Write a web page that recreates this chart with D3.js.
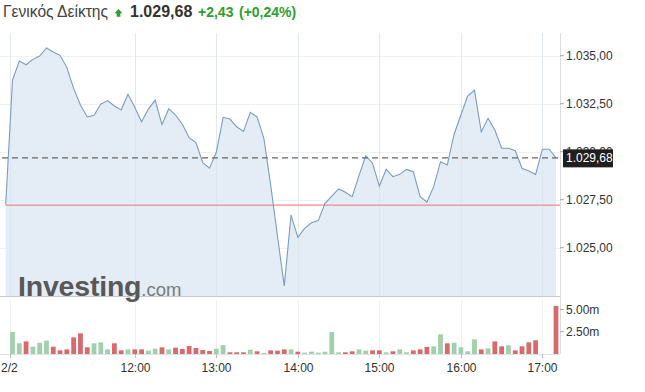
<!DOCTYPE html>
<html lang="el">
<head>
    <meta charset="UTF-8">
    <title>Γενικός Δείκτης</title>
    <script src="https://d3js.org/d3.v7.min.js"></script>
    <style>
        body { margin: 0; background: #fff; }
        svg { display: block; font-family: Arial, "Liberation Sans", sans-serif; }
        .tick-label { font-size: 12px; fill: #333; }
    </style>
</head>
<body>
    <script>
        const width = 645;
        const height = 392;

        // 5-minute closes, first value is previous close (10:25)
        const prices = [
            1027.25, 1033.73, 1034.72, 1034.53, 1034.81, 1034.98, 1035.40, 1035.19, 1035.02, 1034.38,
            1033.30, 1032.43, 1031.81, 1031.90, 1032.48, 1032.66, 1032.38, 1032.17, 1032.99, 1032.31,
            1031.56, 1032.22, 1032.69, 1031.41, 1032.24, 1031.91, 1031.43, 1030.73, 1030.47, 1029.43,
            1029.14, 1029.97, 1031.79, 1031.70, 1031.30, 1031.06, 1032.05, 1031.82, 1030.70, 1028.27,
            1025.61, 1023.01, 1026.70, 1025.54, 1026.01, 1026.30, 1026.41, 1027.31, 1027.69, 1028.06,
            1027.89, 1027.66, 1028.75, 1029.79, 1029.40, 1028.21, 1029.08, 1028.70, 1028.82, 1029.08,
            1028.96, 1027.66, 1027.38, 1028.18, 1029.48, 1029.31, 1030.91, 1031.91, 1032.90, 1033.21,
            1031.04, 1031.74, 1031.13, 1030.18, 1030.18, 1030.05, 1029.14, 1028.99, 1028.82, 1030.13,
            1030.13, 1029.68
        ];

        // volume in millions, 5-minute bars starting 10:30
        const volumes = [
            2.47, 1.2, 1.42, 0.82, 1.27, 1.5, 0.82, 0.41, 0.52, 1.87,
            2.32, 0.75, 1.2, 1.31, 0.52, 1.2, 0.41, 0.52, 0.52, 0.52,
            0.37, 0.6, 0.75, 0.52, 0.71, 0.56, 0.9, 0.67, 0.45, 0.34,
            0.6, 1.0, 0.19, 0.19, 0.19, 0.49, 0.3, 0.11, 0.41, 0.37,
            0.52, 0.52, 0.26, 0.15, 0.26, 0.15, 0.26, 2.47, 0.19, 0.19,
            0.3, 0.52, 0.37, 0.41, 0.41, 0.19, 0.3, 0.52, 0.19, 0.41,
            0.52, 0.79, 0.86, 2.21, 1.2, 1.27, 0.75, 0.3, 1.65, 0.52,
            0.64, 1.42, 0.86, 0.97, 0.41, 0.86, 1.31, 1.54, 0, 0,
            5.4
        ];

        const volumeDir = [
            "u","u","d","u","u","u","d","d","d","d",
            "d","d","u","u","u","d","d","u","d","d",
            "u","u","d","u","d","d","d","d","d","d",
            "u","u","d","d","d","u","d","u","d","d",
            "d","u","d","u","u","u","u","u","u","d",
            "d","u","u","d","d","u","d","u","u","d",
            "d","d","u","u","d","u","u","u","u","d",
            "u","d","d","u","d","d","d","d","d","d",
            "d"
        ];

        const priceTicks = [1025, 1027.5, 1030, 1032.5, 1035];
        const volumeTicks = [2.5, 5];
        const timeTicks = ["10:28", "12:00", "13:00", "14:00", "15:00", "16:00", "17:00"];
        const timeLabels = ["2/2", "12:00", "13:00", "14:00", "15:00", "16:00", "17:00"];

        const prevClose = 1027.25;
        const lastPrice = 1029.68;

        const parseTime = d3.timeParse("%H:%M");
        const priceStart = parseTime("10:25");
        const volStart = parseTime("10:30");
        const priceData = prices.map((p, i) => ({t: d3.timeMinute.offset(priceStart, 5 * i), v: p}));
        const volData = volumes.map((v, i) => ({t: d3.timeMinute.offset(volStart, 5 * i), v: v, dir: volumeDir[i]}))
            .filter(d => d.v > 0);

        const fmtPrice = v => d3.format(",.2f")(v).replace(/,/g, "#").replace(".", ",").replace(/#/g, ".");
        const fmtVol = v => d3.format(".2f")(v) + "m";

        const axisX = 560;
        const priceTop = 33, priceBottom = 296;
        const volTop = 300, volBottom = 354;

        const x = d3.scaleTime()
            .domain([parseTime("10:30"), parseTime("17:10")])
            .range([12.5, 556]);
        const y = d3.scaleLinear().domain([1025, 1035]).range([247.7, 55.7]);
        const yVol = d3.scaleLinear().domain([0, 5]).range([volBottom, 309.5]);

        const svg = d3.select("body").append("svg")
            .attr("width", width)
            .attr("height", height);

        // header
        const header = svg.append("g");
        header.append("text")
            .attr("x", 3).attr("y", 17)
            .attr("font-size", 15.6).attr("fill", "#444")
            .text("Γενικός Δείκτης");
        header.append("path")
            .attr("d", "M118.5,9 L122.5,13.2 L120.4,13.2 L120.4,16.7 L116.6,16.7 L116.6,13.2 L114.5,13.2 Z")
            .attr("fill", "#2e9e2e");
        header.append("text")
            .attr("x", 130).attr("y", 17)
            .attr("font-size", 16).attr("font-weight", "bold").attr("fill", "#333")
            .text(fmtPrice(lastPrice));
        header.append("text")
            .attr("x", 198).attr("y", 17)
            .attr("font-size", 14).attr("font-weight", "bold").attr("fill", "#2e9e2e")
            .text("+2,43");
        header.append("text")
            .attr("x", 239).attr("y", 17)
            .attr("font-size", 14).attr("font-weight", "bold").attr("fill", "#2e9e2e")
            .text("(+0,24%)");

        // grid
        const grid = svg.append("g").attr("stroke", "#eef0f2").attr("stroke-width", 1);
        grid.selectAll("line.h")
            .data(priceTicks)
            .join("line")
            .attr("x1", 0).attr("x2", axisX)
            .attr("y1", d => Math.round(y(d)) + 0.5).attr("y2", d => Math.round(y(d)) + 0.5);
        timeTicks.forEach(t => {
            const xx = Math.round(x(parseTime(t))) + 0.5;
            grid.append("line").attr("x1", xx).attr("x2", xx).attr("y1", priceTop).attr("y2", priceBottom);
            grid.append("line").attr("x1", xx).attr("x2", xx).attr("y1", volTop).attr("y2", volBottom);
        });

        // price area + line
        const area = d3.area()
            .x(d => x(d.t))
            .y0(priceBottom)
            .y1(d => y(d.v));
        const line = d3.line()
            .x(d => x(d.t))
            .y(d => y(d.v));

        svg.append("path")
            .datum(priceData)
            .attr("d", area)
            .attr("fill", "#dfe9f3")
            .attr("fill-opacity", 0.85);

        // re-draw grid faintly over fill
        const grid2 = svg.append("g").attr("stroke", "#d8e2ec").attr("stroke-width", 1).attr("stroke-opacity", 0.6);
        timeTicks.forEach(t => {
            const xx = Math.round(x(parseTime(t))) + 0.5;
            grid2.append("line").attr("x1", xx).attr("x2", xx).attr("y1", priceTop).attr("y2", priceBottom);
        });

        // previous close line
        svg.append("rect")
            .attr("x", x(priceStart)).attr("width", axisX - x(priceStart))
            .attr("y", Math.round(y(prevClose)) - 0.5).attr("height", 1.3)
            .attr("fill", "#f09090");

        svg.append("path")
            .datum(priceData)
            .attr("d", line)
            .attr("fill", "none")
            .attr("stroke", "#7b9dbb")
            .attr("stroke-width", 1.1);

        // last price dashed line
        svg.append("line")
            .attr("x1", 2).attr("x2", axisX)
            .attr("y1", y(lastPrice)).attr("y2", y(lastPrice))
            .attr("stroke", "#666").attr("stroke-width", 1.3)
            .attr("stroke-dasharray", "6,4");

        // panel bottom border
        svg.append("line")
            .attr("x1", 0).attr("x2", axisX)
            .attr("y1", priceBottom + 0.5).attr("y2", priceBottom + 0.5)
            .attr("stroke", "#c8c8c8");

        // watermark
        const wm = svg.append("text")
            .attr("x", 18).attr("y", 296)
            .attr("fill", "#585858");
        wm.append("tspan")
            .attr("font-size", 28.5).attr("font-weight", "bold").attr("letter-spacing", -0.2)
            .text("Investing");
        wm.append("tspan")
            .attr("font-size", 18.5).attr("fill", "#7a7a7a")
            .text(".com");

        // volume bars
        svg.append("g")
            .selectAll("rect")
            .data(volData)
            .join("rect")
            .attr("x", d => x(d.t) - 2.4)
            .attr("width", 4.8)
            .attr("y", d => yVol(d.v))
            .attr("height", d => volBottom - yVol(d.v))
            .attr("fill", d => d.dir === "u" ? "#a2d0ad" : "#d66a6c");

        svg.append("line")
            .attr("x1", 0).attr("x2", axisX)
            .attr("y1", volBottom + 0.5).attr("y2", volBottom + 0.5)
            .attr("stroke", "#dde2e6");

        // right axis
        svg.append("line")
            .attr("x1", axisX + 0.5).attr("x2", axisX + 0.5)
            .attr("y1", priceTop).attr("y2", volBottom)
            .attr("stroke", "#dcdcdc");

        const priceAxis = svg.append("g").attr("transform", `translate(${axisX},0)`);
        priceAxis.selectAll("g")
            .data(priceTicks)
            .join("g")
            .attr("transform", d => `translate(0,${y(d)})`)
            .call(g => g.append("line").attr("x1", 0).attr("x2", 4).attr("stroke", "#aaa"))
            .call(g => g.append("text").attr("class", "tick-label").attr("x", 6).attr("dy", "0.35em").text(d => fmtPrice(d)));

        // last price box
        const box = svg.append("g").attr("transform", `translate(${axisX + 3},${y(lastPrice)})`);
        box.append("rect")
            .attr("x", 0).attr("y", -8.5)
            .attr("width", 50).attr("height", 18)
            .attr("fill", "#1f1f1f");
        box.append("text")
            .attr("x", 3).attr("dy", "0.38em")
            .attr("font-size", 12).attr("fill", "#fff")
            .text(fmtPrice(lastPrice));

        const volAxis = svg.append("g").attr("transform", `translate(${axisX},0)`);
        volAxis.selectAll("g")
            .data(volumeTicks)
            .join("g")
            .attr("transform", d => `translate(0,${yVol(d)})`)
            .call(g => g.append("line").attr("x1", 0).attr("x2", 4).attr("stroke", "#aaa"))
            .call(g => g.append("text").attr("class", "tick-label").attr("x", 6).attr("dy", "0.35em").text(d => fmtVol(d)));

        // time axis
        const timeAxis = svg.append("g");
        timeTicks.forEach((t, i) => {
            const xx = Math.round(x(parseTime(t))) + 0.5;
            timeAxis.append("line")
                .attr("x1", xx).attr("x2", xx)
                .attr("y1", volBottom).attr("y2", volBottom + 4)
                .attr("stroke", "#bbb");
            timeAxis.append("text")
                .attr("class", "tick-label")
                .attr("x", i === 0 ? 1 : xx)
                .attr("y", 372)
                .attr("text-anchor", i === 0 ? "start" : "middle")
                .text(timeLabels[i]);
        });
    </script>
</body>
</html>
